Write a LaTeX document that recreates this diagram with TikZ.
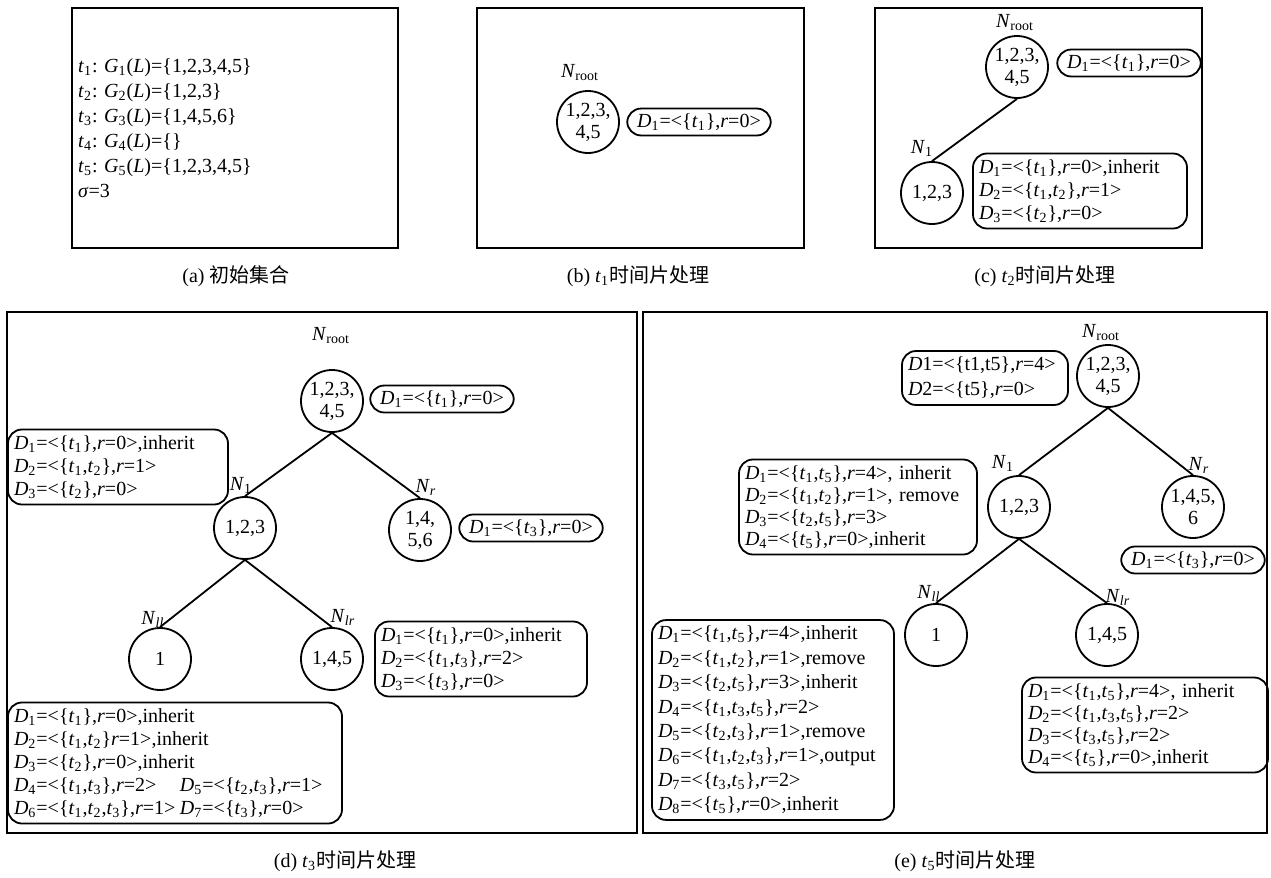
\documentclass[tikz,border=0pt]{standalone}
\usepackage{fontspec}
\setmainfont{Liberation Serif}
\newfontfamily\cjk{Noto Sans CJK SC}
\newcommand{\Dv}[1]{\textit{D}\textsubscript{#1}}
\newcommand{\tv}[1]{\textit{t}\textsubscript{#1}}
\newcommand{\Nv}[1]{\textit{N}\textsubscript{#1}}
\newcommand{\rv}{\textit{r}}

\begin{document}
\begin{tikzpicture}[x=0.5pt,y=-0.5pt,
  panel/.style={draw=black, line width=1pt},
  setnode/.style={draw, circle, line width=0.9pt, minimum size=31pt, inner sep=-1pt, align=center, font=\fontsize{10}{11}\selectfont},
  dbox/.style={draw, rounded corners=7pt, line width=0.9pt, inner xsep=5pt, inner ysep=2.5pt, font=\fontsize{10}{11.5}\selectfont},
  dlist/.style={dbox, inner xsep=3pt, inner ysep=3pt, align=left, text width=#1},
  nlabel/.style={font=\fontsize{10}{11}\selectfont, inner sep=1pt},
  caption/.style={font=\fontsize{10}{12}\selectfont},
  link/.style={line width=0.9pt}]
\useasboundingbox (0,0) rectangle (1271,878);

\draw[panel] (72,8) rectangle (398,248);
\node[anchor=west, align=left, font=\fontsize{10}{12.5}\selectfont] (aset) at (71,128)
  {\tv{1}: \textit{G}\textsubscript{1}(\textit{L})=\{1,2,3,4,5\}\\
   \tv{2}: \textit{G}\textsubscript{2}(\textit{L})=\{1,2,3\}\\
   \tv{3}: \textit{G}\textsubscript{3}(\textit{L})=\{1,4,5,6\}\\
   \tv{4}: \textit{G}\textsubscript{4}(\textit{L})=\{\}\\
   \tv{5}: \textit{G}\textsubscript{5}(\textit{L})=\{1,2,3,4,5\}\\
   \textit{σ}=3};
\node[caption] (acap) at (236,276) {(a) {\cjk 初始集合}};

\draw[panel] (477,8) rectangle (804,248);
\node[setnode] (broot) at (588,122) {1,2,3,\\4,5};
\node[nlabel] (blroot) at (580,73) {\Nv{root}};
\node[dbox] (bdroot) at (699,122) {\Dv{1}=<\{\tv{1}\},\rv=0>};
\node[caption] (bcap) at (638,276) {(b) \tv{1}{\cjk 时间片处理}};

\draw[panel] (875,8) rectangle (1202,248);
\node[setnode] (croot) at (1017,67) {1,2,3,\\4,5};
\node[nlabel] (clroot) at (1015,23) {\Nv{root}};
\node[dbox] (cdroot) at (1129,63) {\Dv{1}=<\{\tv{1}\},\rv=0>};
\node[setnode] (cn1) at (932,193) {1,2,3};
\node[nlabel] (cln1) at (922,148) {\Nv{1}};
\node[dlist=101pt] (cdn1) at (1080,191)
  {\Dv{1}=<\{\tv{1}\},\rv=0>,inherit\\
   \Dv{2}=<\{\tv{1},\tv{2}\},\rv=1>\\
   \Dv{3}=<\{\tv{2}\},\rv=0>};
\draw[link] (croot.south) -- (cn1.north);
\node[caption] (ccap) at (1045,276) {(c) \tv{2}{\cjk 时间片处理}};

\draw[panel] (7,312) rectangle (637,833);
\node[setnode] (droot) at (332,401) {1,2,3,\\4,5};
\node[nlabel] (dlroot) at (331,336) {\Nv{root}};
\node[dbox] (ddroot) at (442,399) {\Dv{1}=<\{\tv{1}\},\rv=0>};
\node[setnode] (dn1) at (245,528) {1,2,3};
\node[nlabel] (dln1) at (241,485) {\Nv{1}};
\node[dlist=104pt] (ddn1) at (118,467)
  {\Dv{1}=<\{\tv{1}\},\rv=0>,inherit\\
   \Dv{2}=<\{\tv{1},\tv{2}\},\rv=1>\\
   \Dv{3}=<\{\tv{2}\},\rv=0>};
\node[setnode] (dnr) at (420,530) {1,4,\\5,6};
\node[nlabel] (dlnr) at (426,487) {\Nv{\textit{r}}};
\node[dbox] (ddnr) at (531,528) {\Dv{1}=<\{\tv{3}\},\rv=0>};
\node[setnode] (dnll) at (160,659) {1};
\node[nlabel] (dlnll) at (153,619) {\Nv{\textit{ll}}};
\node[setnode] (dnlr) at (332,659) {1,4,5};
\node[nlabel] (dlnlr) at (343,617) {\Nv{\textit{lr}}};
\node[dlist=100pt] (ddnlr) at (481,659)
  {\Dv{1}=<\{\tv{1}\},\rv=0>,inherit\\
   \Dv{2}=<\{\tv{1},\tv{3}\},\rv=2>\\
   \Dv{3}=<\{\tv{3}\},\rv=0>};
\node[dlist=161pt] (ddnll) at (175,763)
  {\Dv{1}=<\{\tv{1}\},\rv=0>,inherit\\
   \Dv{2}=<\{\tv{1},\tv{2}\}\rv=1>,inherit\\
   \Dv{3}=<\{\tv{2}\},\rv=0>,inherit\\
   \makebox[83pt][l]{\Dv{4}=<\{\tv{1},\tv{3}\},\rv=2>}\Dv{5}=<\{\tv{2},\tv{3}\},\rv=1>\\
   \makebox[83pt][l]{\Dv{6}=<\{\tv{1},\tv{2},\tv{3}\},\rv=1>}\Dv{7}=<\{\tv{3}\},\rv=0>};
\draw[link] (droot.south) -- (dn1.north);
\draw[link] (droot.south) -- (dnr.north);
\draw[link] (dn1.south) -- (dnll.north);
\draw[link] (dn1.south) -- (dnlr.north);
\node[caption] (dcap) at (345,861) {(d) \tv{3}{\cjk 时间片处理}};

\draw[panel] (643,312) rectangle (1267,833);
\node[setnode] (eroot) at (1108,376) {1,2,3,\\4,5};
\node[nlabel] (elroot) at (1101,333) {\Nv{root}};
\node[dlist=77pt, font=\fontsize{10}{12.5}\selectfont] (edroot) at (985,378)
  {\textit{D}1=<\{t1,t5\},\rv=4>\\
   \textit{D}2=<\{t5\},\rv=0>};
\node[setnode] (en1) at (1019,507) {1,2,3};
\node[nlabel] (eln1) at (1003,463) {\Nv{1}};
\node[dlist=113pt, font=\fontsize{10}{11}\selectfont] (edn1) at (858,507)
  {\Dv{1}=<\{\tv{1},\tv{5}\},\rv=4>, inherit\\
   \Dv{2}=<\{\tv{1},\tv{2}\},\rv=1>, remove\\
   \Dv{3}=<\{\tv{2},\tv{5}\},\rv=3>\\
   \Dv{4}=<\{\tv{5}\},\rv=0>,inherit};
\node[setnode] (enr) at (1193,507) {1,4,5,\\6};
\node[nlabel] (elnr) at (1199,465) {\Nv{\textit{r}}};
\node[dbox] (ednr) at (1193,560) {\Dv{1}=<\{\tv{3}\},\rv=0>};
\node[setnode] (enll) at (936,635) {1};
\node[nlabel] (elnll) at (929,593) {\Nv{\textit{ll}}};
\node[setnode] (enlr) at (1107,635) {1,4,5};
\node[nlabel] (elnlr) at (1118,597) {\Nv{\textit{lr}}};
\node[dlist=115pt, font=\fontsize{10}{12.2}\selectfont] (ednll) at (773,720)
  {\Dv{1}=<\{\tv{1},\tv{5}\},\rv=4>,inherit\\
   \Dv{2}=<\{\tv{1},\tv{2}\},\rv=1>,remove\\
   \Dv{3}=<\{\tv{2},\tv{5}\},\rv=3>,inherit\\
   \Dv{4}=<\{\tv{1},\tv{3},\tv{5}\},\rv=2>\\
   \Dv{5}=<\{\tv{2},\tv{3}\},\rv=1>,remove\\
   \Dv{6}=<\{\tv{1},\tv{2},\tv{3}\},\rv=1>,output\\
   \Dv{7}=<\{\tv{3},\tv{5}\},\rv=2>\\
   \Dv{8}=<\{\tv{5}\},\rv=0>,inherit};
\node[dlist=117pt, font=\fontsize{10}{11}\selectfont] (ednlr) at (1145,725)
  {\Dv{1}=<\{\tv{1},\tv{5}\},\rv=4>, inherit\\
   \Dv{2}=<\{\tv{1},\tv{3},\tv{5}\},\rv=2>\\
   \Dv{3}=<\{\tv{3},\tv{5}\},\rv=2>\\
   \Dv{4}=<\{\tv{5}\},\rv=0>,inherit};
\draw[link] (eroot.south) -- (en1.north);
\draw[link] (eroot.south) -- (enr.north);
\draw[link] (en1.south) -- (enll.north);
\draw[link] (en1.south) -- (enlr.north);
\node[caption] (ecap) at (965,861) {(e) \tv{5}{\cjk 时间片处理}};
\end{tikzpicture}
\end{document}
